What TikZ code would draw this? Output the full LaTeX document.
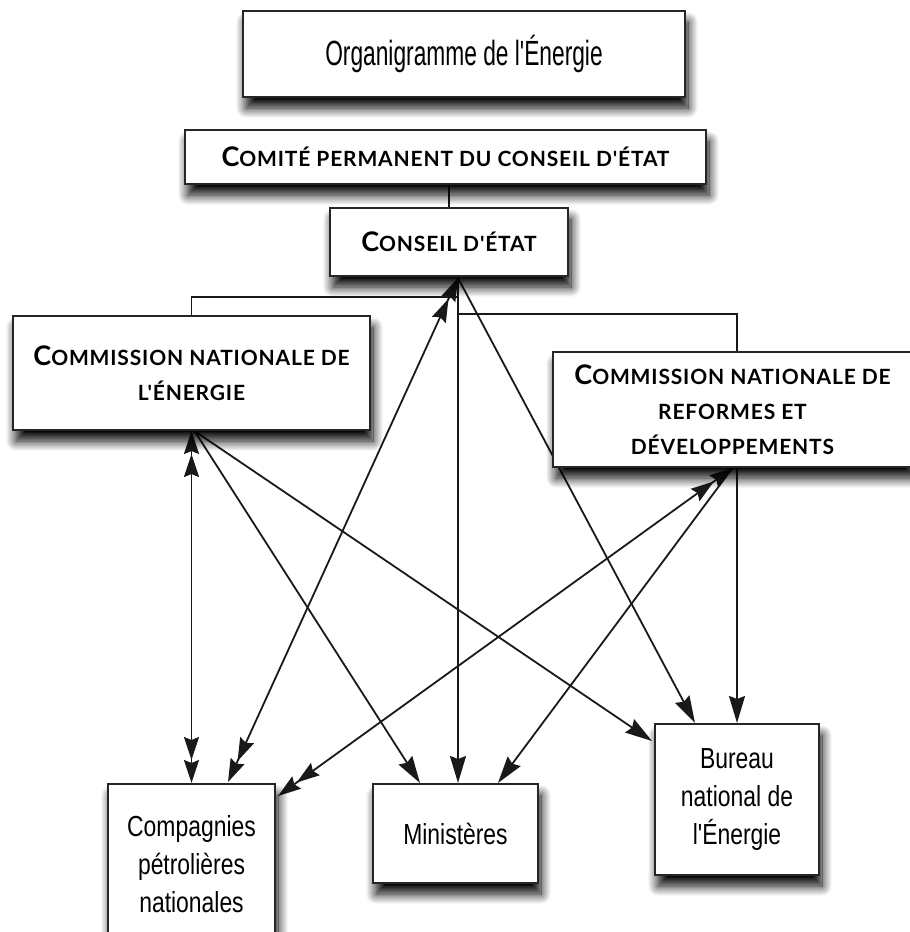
\documentclass[tikz,border=0pt]{standalone}
\usepackage{fontspec}
\setmainfont{Liberation Sans}
\newfontfamily\narrowf[FakeStretch=0.79]{Liberation Sans}
\newfontfamily\titlef[FakeStretch=0.65]{Liberation Sans}
\newfontfamily\scf[LetterSpace=4]{Lato}
\usetikzlibrary{arrows.meta,calc,backgrounds,shadows.blur}
\newcommand\bigC[1]{{\fontsize{27}{30}\selectfont #1}}
\begin{document}
\begin{tikzpicture}[x=1pt,y=-1pt,
  box/.style={draw=black!85, line width=2pt, fill=white, inner sep=0pt, align=center,
    blur shadow={shadow xshift=3pt, shadow yshift=-11pt, shadow blur radius=10pt, shadow blur steps=14, shadow opacity=100}},
  scbox/.style={box, font={\scf\bfseries\fontsize{21}{35}\selectfont}},
  nbox/.style={box, font={\narrowf\fontsize{29}{38}\selectfont}},
  ln/.style={line width=1.8pt, draw=black!90},
  sa/.style={-{Stealth[length=27pt,width=16pt,inset=3pt]}},
  da/.style={{Stealth[length=23pt,width=15pt,inset=3pt] Stealth[length=23pt,width=15pt,inset=3pt]}-{Stealth[length=23pt,width=15pt,inset=3pt] Stealth[length=23pt,width=15pt,inset=3pt]}}
]
\useasboundingbox (0,0) rectangle (910,932);

\node[box, minimum width=442pt, minimum height=86pt, font={\titlef\fontsize{35}{40}\selectfont}] (title) at (464,54) {Organigramme de l'Énergie};
\node[scbox, minimum width=521pt, minimum height=54pt] (comite) at (445.5,157) {\bigC{C}OMITÉ PERMANENT DU CONSEIL D'ÉTAT};
\node[scbox, minimum width=238pt, minimum height=68pt] (conseil) at (449,242) {\bigC{C}ONSEIL D'ÉTAT};
\node[scbox, minimum width=357pt, minimum height=114pt] (cne) at (191.5,373) {\bigC{C}OMMISSION NATIONALE DE\\L'ÉNERGIE};
\node[scbox, minimum width=359pt, minimum height=115pt] (cnrd) at (732.5,409.5) {\bigC{C}OMMISSION NATIONALE DE\\REFORMES ET\\DÉVELOPPEMENTS};
\node[nbox, minimum width=167pt, minimum height=161pt] (comp) at (191.5,864.5) {Compagnies\\pétrolières\\nationales};
\node[nbox, minimum width=165pt, minimum height=99pt] (min) at (455.5,833.5) {Ministères};
\node[nbox, minimum width=164pt, minimum height=151pt] (bur) at (737,799.5) {Bureau\\national de\\l'Énergie};

\coordinate (hub) at ($(conseil.south)+(9,1)$);
\coordinate (e1) at ($(hub)+(0,19)$);
\coordinate (e2) at ($(hub)+(0,36)$);

\begin{scope}[on background layer]
\draw[ln] (conseil.north) -- (conseil.north |- comite.south);
\draw[ln] (hub) -- (e1) -| (cne.north);
\draw[ln,sa] (hub) -- (hub |- min.north);
\draw[ln] (e2) -| (bur.north |- cnrd.north);
\draw[ln,sa] (bur.north |- cnrd.south) -- (bur.north);
\draw[ln,sa] (hub) -- ($(bur.north)+(-42,0)$);
\draw[ln,da] ($(comp.north)+(36.5,-1)$) -- (hub);
\draw[ln,da] (cne.south) -- (comp.north);
\draw[ln,sa] ($(cne.south)+(3,0)$) -- ($(min.north west)+(48,0)$);
\draw[ln,sa] ($(cne.south)+(3,0)$) -- ($(bur.north west)+(-2,18)$);
\draw[ln,da] (cnrd.south) -- ($(comp.north east)+(2,13)$);
\draw[ln,sa] (cnrd.south) -- ($(min.north east)+(-41,0)$);
\end{scope}
\end{tikzpicture}
\end{document}
